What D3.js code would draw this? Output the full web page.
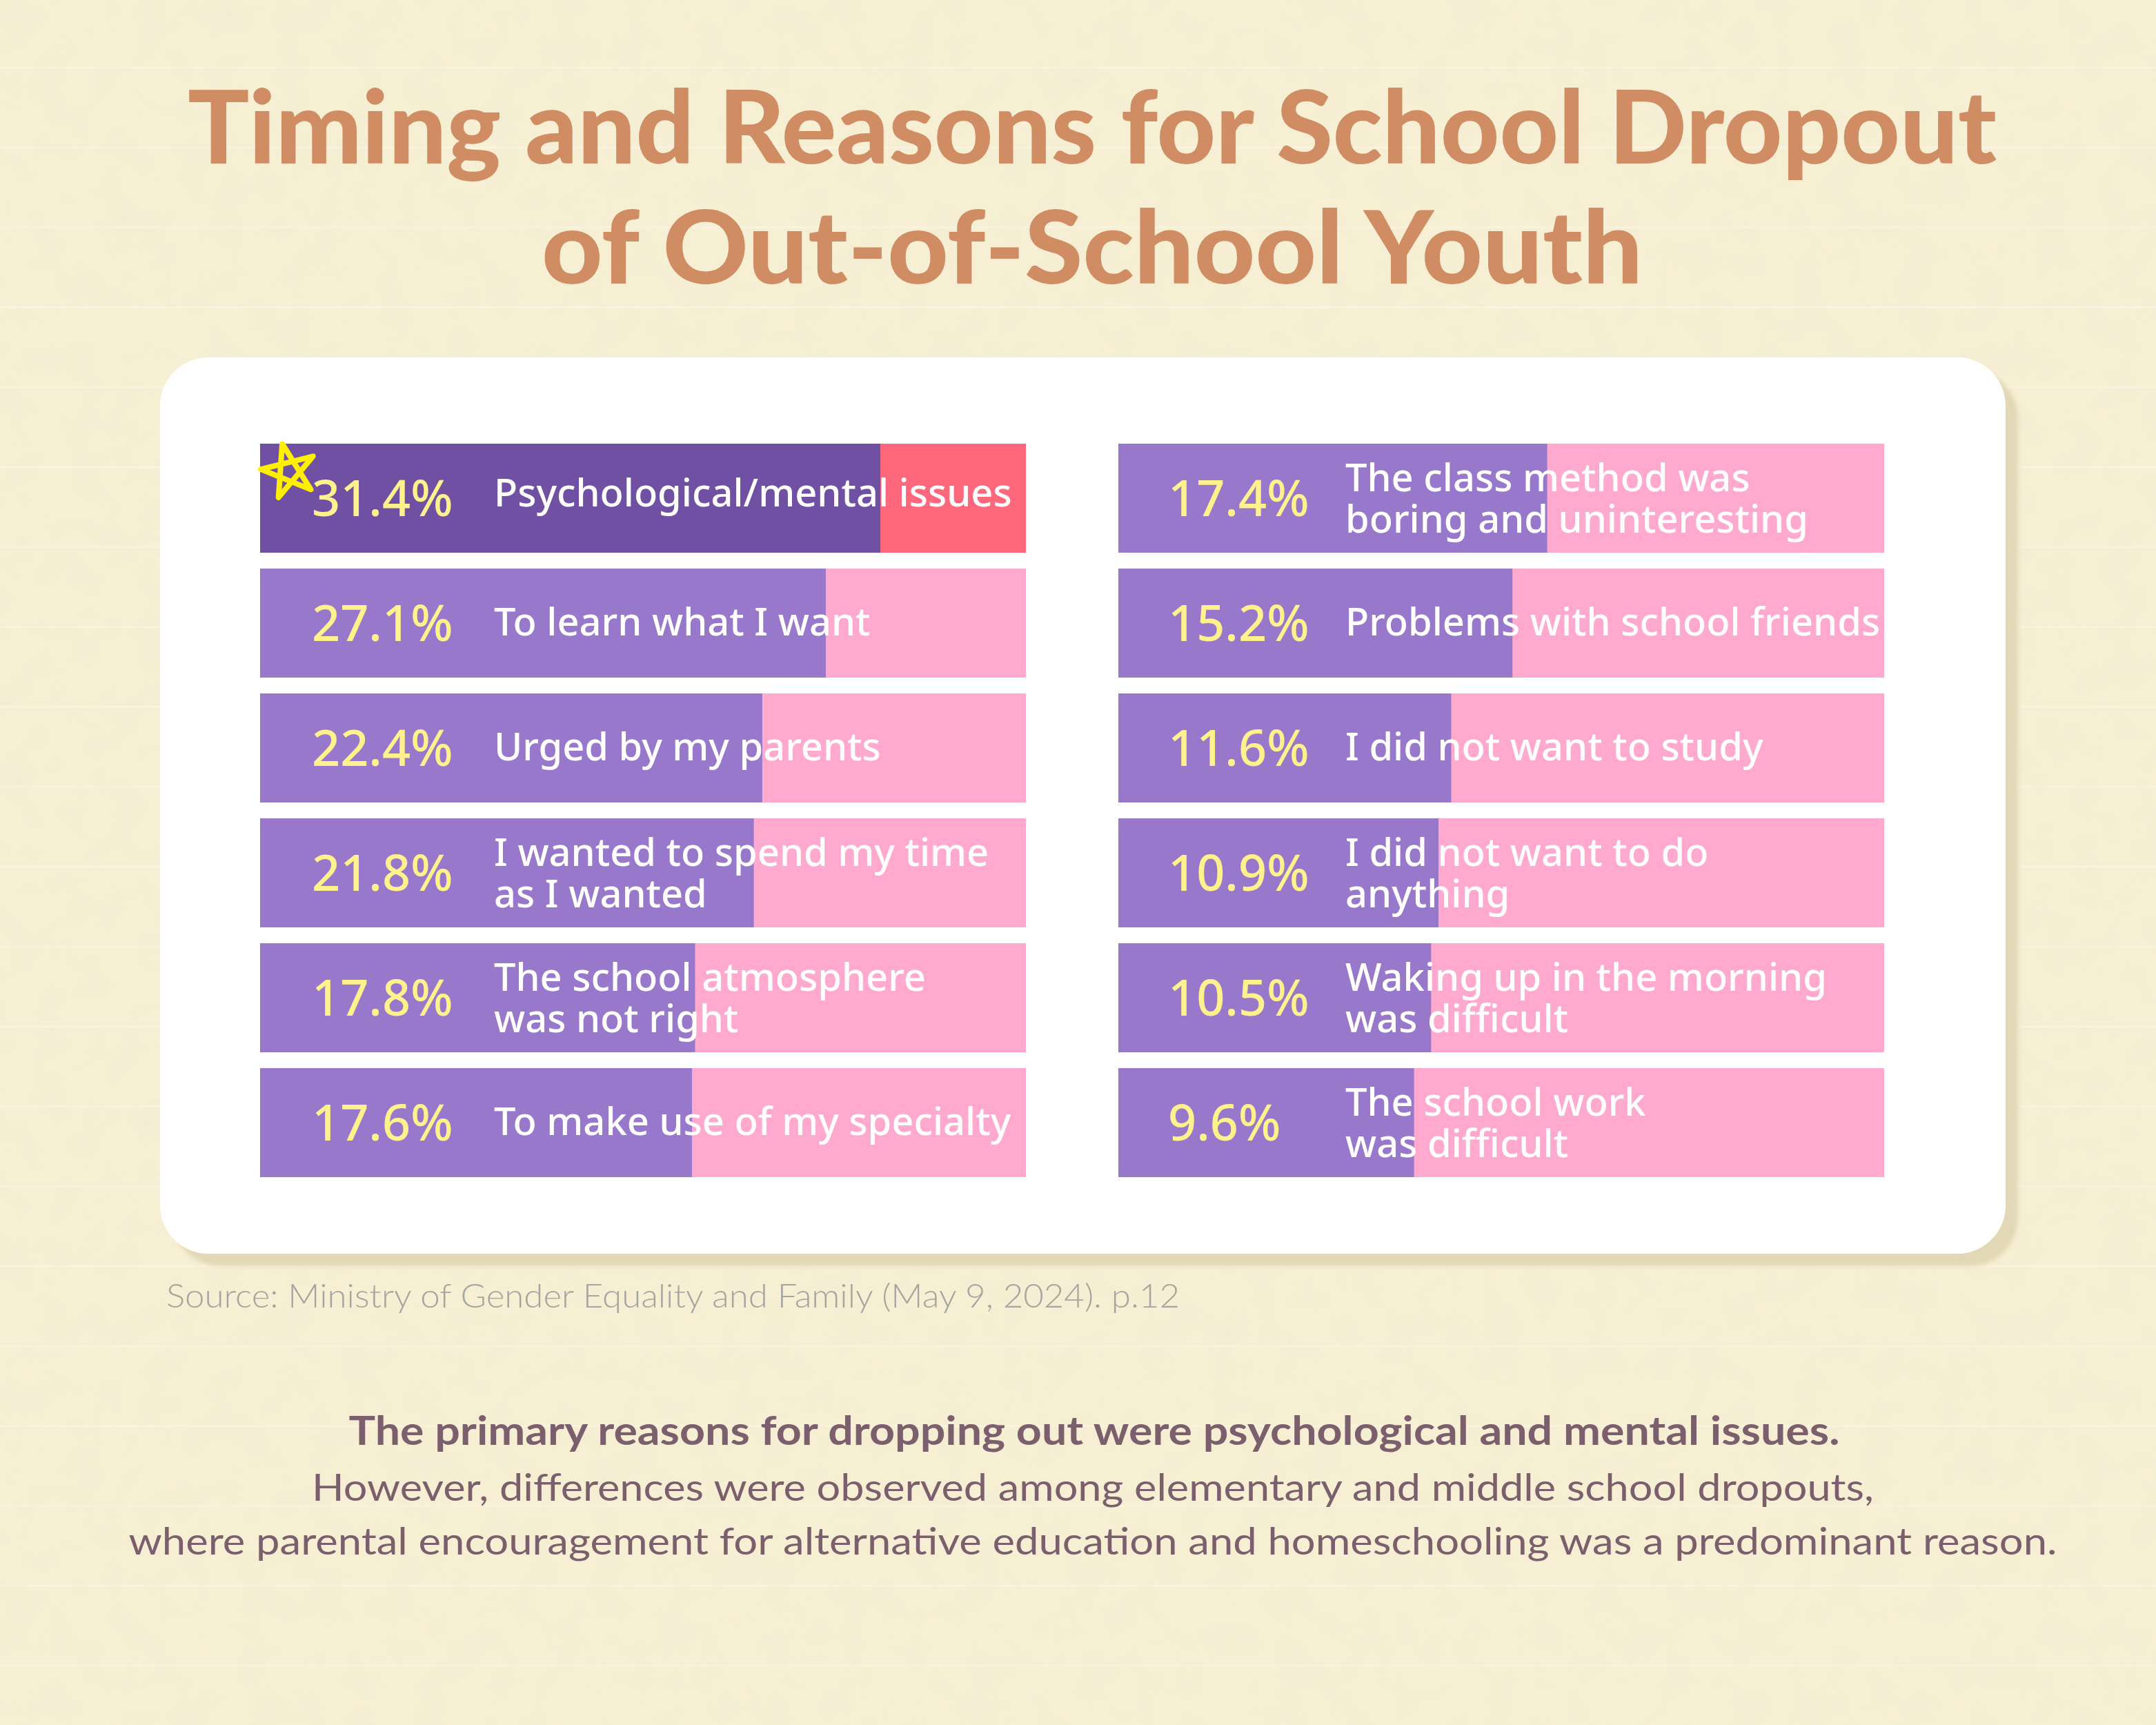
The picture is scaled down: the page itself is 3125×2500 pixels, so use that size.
<!DOCTYPE html>
<html>
<head>
<meta charset="utf-8">
<script src="https://cdn.jsdelivr.net/npm/d3@7"></script>
<style>
  html, body { margin: 0; padding: 0; background: #f7efd4; }
  svg { display: block; }
</style>
</head>
<body>
<div id="chart"></div>
<script>
// ---------- data ----------
const reasons = [
  "Psychological/mental issues",
  "To learn what I want",
  "Urged by my parents",
  "I wanted to spend my time\nas I wanted",
  "The school atmosphere\nwas not right",
  "To make use of my specialty",
  "The class method was\nboring and uninteresting",
  "Problems with school friends",
  "I did not want to study",
  "I did not want to do\nanything",
  "Waking up in the morning\nwas difficult",
  "The school work\nwas difficult"
];
const shares = [31.4, 27.1, 22.4, 21.8, 17.8, 17.6, 17.4, 15.2, 11.6, 10.9, 10.5, 9.6];
const titleLines = ["Timing and Reasons for School Dropout", "of Out-of-School Youth"];
const sourceText = "Source: Ministry of Gender Equality and Family (May 9, 2024). p.12";
const noteBold = "The primary reasons for dropping out were psychological and mental issues.";
const noteLines = [
  "However, differences were observed among elementary and middle school dropouts,",
  "where parental encouragement for alternative education and homeschooling was a predominant reason."
];

// ---------- layout ----------
const W = 3125, H = 2500;
const svg = d3.select("#chart").append("svg").attr("width", W).attr("height", H);
const defs = svg.append("defs");

// paper texture
const tex = defs.append("filter").attr("id", "paper").attr("x", 0).attr("y", 0).attr("width", "100%").attr("height", "100%");
tex.append("feTurbulence").attr("type", "fractalNoise").attr("baseFrequency", 0.02).attr("numOctaves", 3).attr("seed", 4).attr("result", "n");
tex.append("feColorMatrix").attr("type", "matrix")
  .attr("values", "0 0 0 0 0.85  0 0 0 0 0.80  0 0 0 0 0.62  0 0 0 -1.6 0.9");
const blur = defs.append("filter").attr("id", "sh").attr("x", "-5%").attr("y", "-5%").attr("width", "110%").attr("height", "110%");
blur.append("feGaussianBlur").attr("stdDeviation", 3);

svg.append("rect").attr("width", W).attr("height", H).attr("fill", "#f7efd4");
svg.append("rect").attr("width", W).attr("height", H).attr("filter", "url(#paper)").attr("opacity", 0.35);

// faint ruled lines
const ruleY = d3.range(98, H, 115.8);
svg.append("g").selectAll("rect").data(ruleY).join("rect")
  .attr("x", 0).attr("width", W).attr("y", d => d - 1.5).attr("height", 3)
  .attr("fill", "#fbf6e6").attr("opacity", 0.55);

// title
const title = svg.append("g").attr("font-family", "Lato, 'Noto Sans', sans-serif")
  .attr("font-weight", 900).attr("fill", "#d08c62").attr("text-anchor", "middle");
const titleW = [2622, 1596];
const titleY = [237, 411];
title.selectAll("text").data(titleLines).join("text")
  .attr("x", 1583).attr("y", (d, i) => titleY[i])
  .attr("font-size", 146)
  .attr("textLength", (d, i) => titleW[i]).attr("lengthAdjust", "spacingAndGlyphs")
  .text(d => d);

// card
const card = { x: 232, y: 518, w: 2675, h: 1299, r: 70 };
svg.append("rect").attr("x", card.x + 18).attr("y", card.y + 18).attr("width", card.w).attr("height", card.h)
  .attr("rx", card.r).attr("fill", "#e2d8b6").attr("filter", "url(#sh)");
svg.append("rect").attr("x", card.x).attr("y", card.y).attr("width", card.w).attr("height", card.h)
  .attr("rx", card.r).attr("fill", "#ffffff");

// scales
const perCol = 6;
const colX = [377, 1621];
const barW = 1110;
const pctOff = [75, 72];
const lblOff = [339, 329];
const x = d3.scalePow().exponent(0.625).domain([0, 44]).range([0, barW]);
const y = d3.scaleBand().domain(d3.range(perCol)).range([643, 1706]).paddingInner(0.127).paddingOuter(0);
const fmt = d3.format(".1f");

const rows = shares.map((v, i) => ({ v, label: reasons[i], col: Math.floor(i / perCol), row: i % perCol, i }));

const g = svg.append("g");
const rg = g.selectAll("g.row").data(rows).join("g").attr("class", "row")
  .attr("transform", d => `translate(${colX[d.col]},${y(d.row)})`);

rg.append("rect").attr("x", 0).attr("y", 0).attr("width", barW).attr("height", y.bandwidth())
  .attr("fill", d => d.i === 0 ? "#ff687c" : "#ffa9ce");
rg.append("rect").attr("x", 0).attr("y", 0).attr("width", d => x(d.v)).attr("height", y.bandwidth())
  .attr("fill", d => d.i === 0 ? "#6f50a2" : "#9878ca");

const cy = y.bandwidth() / 2;
rg.append("text")
  .attr("x", d => pctOff[d.col]).attr("y", cy + 26)
  .attr("font-family", "'Noto Sans', sans-serif").attr("font-weight", 500)
  .attr("font-size", 72).attr("fill", "#fff18c")
  .text(d => fmt(d.v) + "%");

rg.each(function (d) {
  const lines = d.label.split("\n");
  const offs = lines.length === 1 ? [cy + (d.i === 0 ? 12 : 18)] : [cy - 10, cy + 50];
  lines.forEach((ln, k) => {
    d3.select(this).append("text")
      .attr("font-family", "'Noto Sans', sans-serif").attr("font-weight", 500)
      .attr("font-size", 56).attr("fill", "#ffffff")
      .attr("x", lblOff[d.col]).attr("y", offs[k]).text(ln);
  });
});

// hand-drawn star on the top bar
const sc = { x: 419, y: 683, r: 41, rot: -14 };
const starPts = [0, 2, 4, 1, 3].map(k => {
  const a = (sc.rot - 90 + k * 72) * Math.PI / 180;
  return [sc.x + sc.r * Math.cos(a), sc.y + sc.r * Math.sin(a)];
});
svg.append("path").attr("d", d3.line().curve(d3.curveLinearClosed)(starPts))
  .attr("fill", "none").attr("stroke", "#fff000").attr("stroke-width", 8)
  .attr("stroke-linejoin", "round").attr("stroke-linecap", "round");

// source
svg.append("text").attr("x", 241).attr("y", 1895)
  .attr("font-family", "Lato, sans-serif").attr("font-weight", 300)
  .attr("font-size", 48).attr("fill", "#a6a49f")
  .attr("textLength", 1469).attr("lengthAdjust", "spacingAndGlyphs")
  .text(sourceText);

// note
const note = svg.append("g").attr("font-family", "Lato, sans-serif").attr("fill", "#7b5f6d").attr("text-anchor", "middle");
note.append("text").attr("x", 1586).attr("y", 2094).attr("font-size", 57).attr("font-weight", 700)
  .attr("textLength", 2161).attr("lengthAdjust", "spacingAndGlyphs").text(noteBold);
const noteW = [2264, 2795];
const noteY = [2175, 2253];
note.selectAll("text.n").data(noteLines).join("text").attr("class", "n")
  .attr("x", 1584).attr("y", (d, i) => noteY[i]).attr("font-size", 55).attr("font-weight", 400)
  .attr("textLength", (d, i) => noteW[i]).attr("lengthAdjust", "spacingAndGlyphs").text(d => d);
</script>
</body>
</html>
